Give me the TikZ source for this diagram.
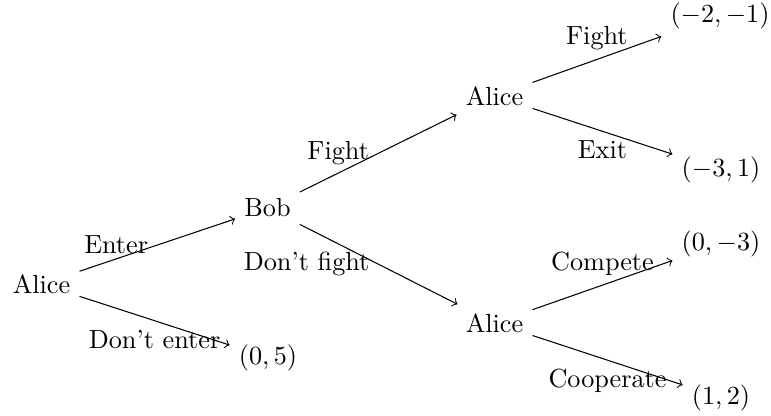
\documentclass[tikz,border=0pt]{standalone}
\begin{document}
\begin{tikzpicture}[x=0.38168pt, y=-0.38168pt,
  edge/.style={->}]
\useasboundingbox (0,0) rectangle (771,415);
\node (a0) at (41.5,284) {Alice};
\node (bob) at (267.5,208) {Bob};
\node (a1) at (494.5,96) {Alice};
\node (a2) at (494.5,323) {Alice};
\node (p0) at (268,357.5) {$(0,5)$};
\node (p1) at (720,15.5) {$(-2,-1)$};
\node (p2) at (721,170) {$(-3,1)$};
\node (p3) at (721,243.5) {$(0,-3)$};
\node (p4) at (721,397.5) {$(1,2)$};
\draw[edge] (a0) -- node[left] (l1) {Enter} (bob);
\draw[edge] (a0) -- node[below] (l2) {Don't enter} (p0);
\draw[edge] (bob) -- node[left] (l3) {Fight} (a1);
\draw[edge] (bob) -- node[left] (l4) {Don't fight} (a2);
\draw[edge] (a1) -- node[above] (l5) {Fight} (p1);
\draw[edge] (a1) -- node[below] (l6) {Exit} (p2);
\draw[edge] (a2) -- node[above] (l7) {Compete} (p3);
\draw[edge] (a2) -- node[below] (l8) {Cooperate} (p4);
\end{tikzpicture}
\end{document}
